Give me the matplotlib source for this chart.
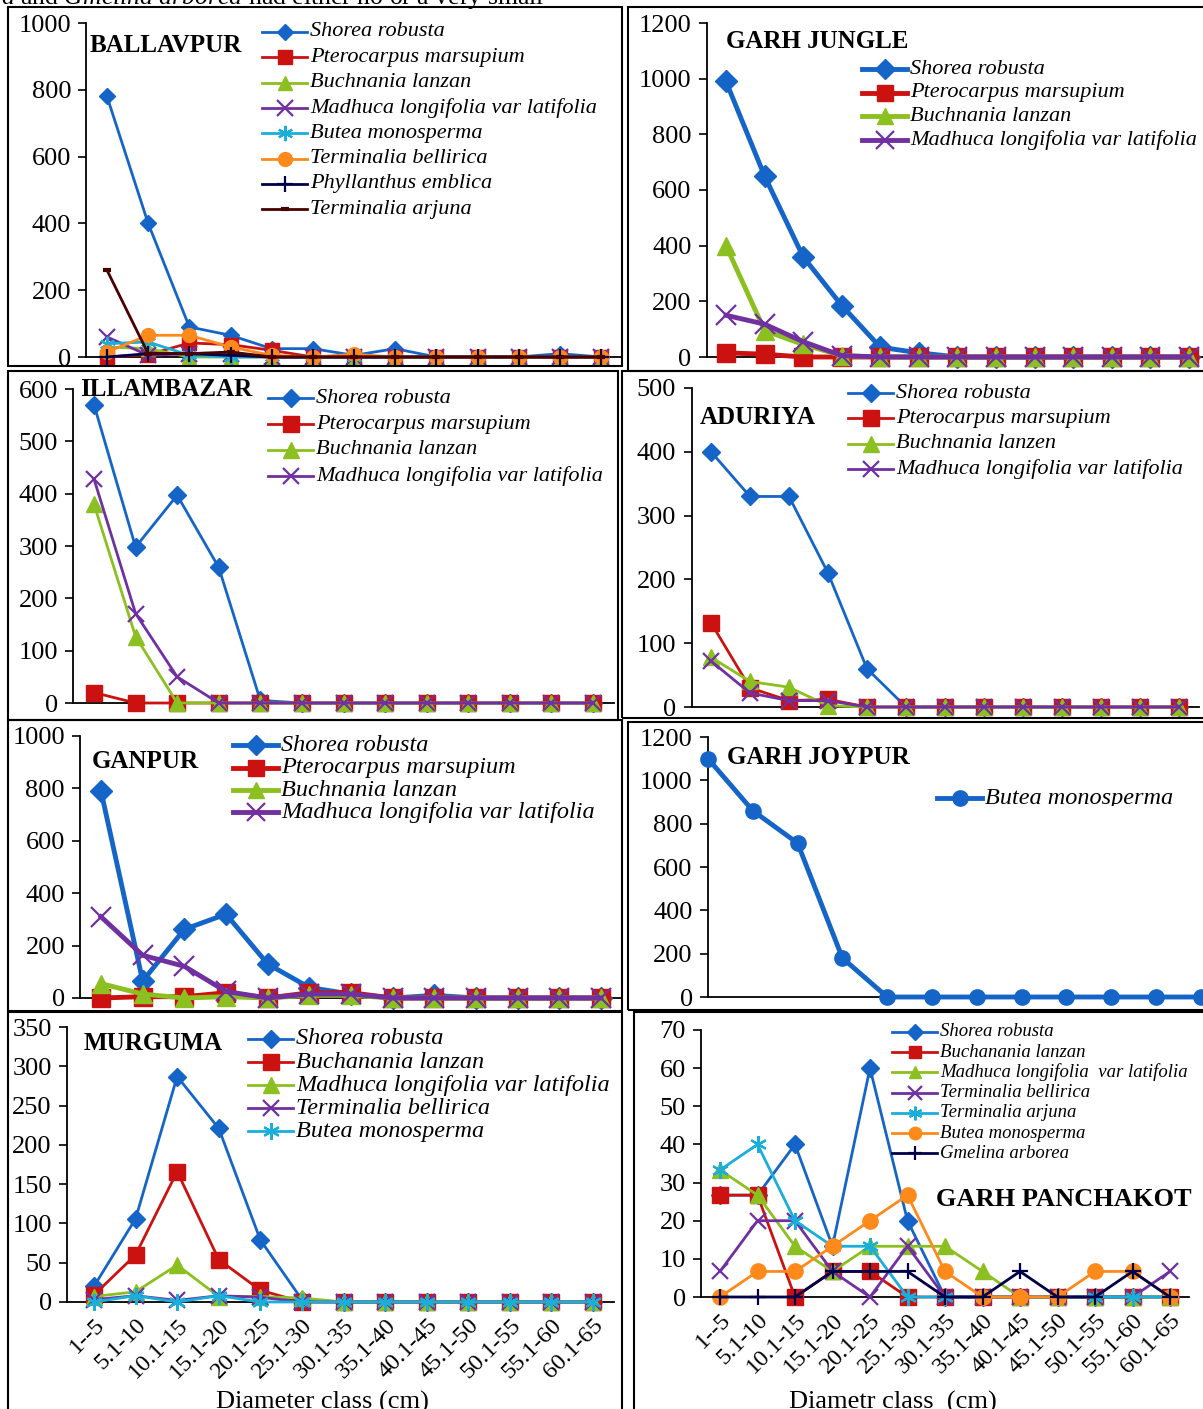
import numpy as np
import matplotlib
matplotlib.use("Agg")
import matplotlib.pyplot as plt
from matplotlib.lines import Line2D
from matplotlib.patches import Rectangle

W, H = 1203, 1409

# Diameter classes (cm)
CLASSES = ["1--5", "5.1-10", "10.1-15", "15.1-20", "20.1-25", "25.1-30", "30.1-35",
           "35.1-40", "40.1-45", "45.1-50", "50.1-55", "55.1-60", "60.1-65"]

# Number of individuals per diameter class
BALLAVPUR = {
    "Shorea robusta":            [780, 400, 90, 65, 25, 25, 5, 25, 0, 0, 0, 10, 0],
    "Pterocarpus marsupium":     [0, 7, 42, 37, 20, 0, 0, 0, 0, 0, 0, 0, 0],
    "Buchnania lanzan":          [30, 25, 0, 0, 0, 0, 0, 0, 0, 0, 0, 0, 0],
    "Madhuca longifolia var latifolia": [60, 5, 10, 10, 0, 0, 0, 0, 0, 0, 0, 0, 0],
    "Butea monosperma":          [40, 45, 5, 0, 0, 0, 0, 0, 0, 0, 0, 0, 0],
    "Terminalia bellirica":      [15, 65, 65, 30, 5, 0, 8, 0, 0, 0, 0, 0, 0],
    "Phyllanthus emblica":       [0, 10, 10, 5, 0, 0, 0, 0, 0, 0, 0, 0, 0],
    "Terminalia arjuna":         [260, 10, 10, 15, 0, 0, 0, 0, 0, 0, 0, 0, 0],
}
GARH_JUNGLE = {
    "Shorea robusta":            [990, 650, 360, 185, 35, 15, 0, 0, 0, 0, 0, 0, 0],
    "Pterocarpus marsupium":     [15, 10, 0, 0, 0, 0, 0, 0, 0, 0, 0, 0, 0],
    "Buchnania lanzan":          [400, 95, 45, 5, 0, 0, 0, 0, 0, 0, 0, 0, 0],
    "Madhuca longifolia var latifolia": [150, 118, 55, 5, 0, 0, 0, 0, 0, 0, 0, 0, 0],
}
ILLAMBAZAR = {
    "Shorea robusta":            [570, 298, 397, 259, 5, 0, 0, 0, 0, 0, 0, 0, 0],
    "Pterocarpus marsupium":     [20, 0, 0, 0, 0, 0, 0, 0, 0, 0, 0, 0, 0],
    "Buchnania lanzan":          [380, 127, 0, 0, 0, 0, 0, 0, 0, 0, 0, 0, 0],
    "Madhuca longifolia var latifolia": [428, 171, 50, 0, 0, 0, 0, 0, 0, 0, 0, 0, 0],
}
ADURIYA = {
    "Shorea robusta":            [400, 330, 330, 210, 60, 0, 0, 0, 0, 0, 0, 0, 0],
    "Pterocarpus marsupium":     [132, 30, 10, 12, 0, 0, 0, 0, 0, 0, 0, 0, 0],
    "Buchnania lanzen":          [78, 40, 31, 2, 0, 0, 0, 0, 0, 0, 0, 0, 0],
    "Madhuca longifolia var latifolia": [72, 22, 10, 10, 0, 0, 0, 0, 0, 0, 0, 0, 0],
}
GANPUR = {
    "Shorea robusta":            [790, 65, 262, 320, 130, 40, 15, 0, 10, 0, 0, 0, 0],
    "Pterocarpus marsupium":     [0, 5, 5, 20, 0, 20, 20, 0, 0, 0, 0, 0, 0],
    "Buchnania lanzan":          [55, 15, 0, 5, 0, 10, 10, 0, 0, 0, 0, 0, 0],
    "Madhuca longifolia var latifolia": [310, 163, 121, 25, 0, 15, 15, 0, 0, 0, 0, 0, 0],
}
GARH_JOYPUR = {
    "Butea monosperma":          [1100, 860, 710, 180, 0, 0, 0, 0, 0, 0, 0, 0],
}
MURGUMA = {
    "Shorea robusta":            [20, 106, 287, 221, 79, 3, 0, 0, 0, 0, 0, 0, 0],
    "Buchanania lanzan":         [9, 60, 166, 54, 15, 0, 0, 0, 0, 0, 0, 0, 0],
    "Madhuca longifolia var latifolia": [7, 13, 47, 7, 7, 5, 0, 0, 0, 0, 0, 0, 0],
    "Terminalia bellirica":      [3, 8, 2, 8, 6, 0, 0, 0, 0, 0, 0, 0, 0],
    "Butea monosperma":          [0, 8, 0, 8, 0, 0, 0, 0, 0, 0, 0, 0, 0],
}
GARH_PANCHAKOT = {
    "Shorea robusta":            [26.7, 26.7, 40, 13.3, 60, 20, 0, 0, 0, 0, 0, 0, 0],
    "Buchanania lanzan":         [26.7, 26.7, 0, 6.7, 6.7, 0, 0, 0, 0, 0, 0, 0, 0],
    "Madhuca longifolia  var latifolia": [33.3, 26.7, 13.3, 6.7, 13.3, 13.3, 13.3, 6.7, 0, 0, 0, 0, 0],
    "Terminalia bellirica":      [6.7, 20, 20, 6.7, 0, 13.3, 0, 0, 0, 0, 0, 0, 6.7],
    "Terminalia arjuna":         [33.3, 40, 20, 13.3, 13.3, 0, 0, 0, 0, 0, 0, 0, 0],
    "Butea monosperma":          [0, 6.7, 6.7, 13.3, 20, 26.7, 6.7, 0, 0, 0, 6.7, 6.7, 0],
    "Gmelina arborea":           [0, 0, 0, 6.7, 6.7, 6.7, 0, 0, 6.7, 0, 0, 6.7, 0],
}

# Excel-like series styles, in series order
ASTER = (6, 2, 0)
STYLES = [
    ("#1565C8", "D"),
    ("#CC1111", "s"),
    ("#8CC020", "^"),
    ("#7030A0", "x"),
    ("#1AAEDA", ASTER),
    ("#FF8A1C", "o"),
    ("#00004A", "+"),
    ("#4A0000", "_"),
]

plt.rcParams["font.family"] = ["Liberation Serif", "DejaVu Serif"]
plt.rcParams["mathtext.fontset"] = "custom"
plt.rcParams["mathtext.rm"] = "Liberation Serif"
plt.rcParams["mathtext.it"] = "Liberation Serif:italic"

fig = plt.figure(figsize=(W / 100, H / 100), dpi=100)


def fx(x):
    return x / W


def fy(y):
    return 1 - y / H


def box(x0, y0, x1, y1):
    fig.add_artist(Rectangle((fx(x0), fy(y1)), (x1 - x0) / W, (y1 - y0) / H,
                             transform=fig.transFigure, fill=False, lw=1.5, ec="black"))


def marker_kw(marker, color, ms):
    kw = dict(marker=marker, markersize=ms, markerfacecolor=color, markeredgecolor=color)
    if marker in ("x", "+", ASTER):
        kw["markeredgewidth"] = 1.6
        kw["markersize"] = ms * 1.1
    if marker == "_":
        kw["markeredgewidth"] = 3
        kw["markersize"] = ms * 0.6
    if marker == "D":
        kw["markersize"] = ms * 0.85
    return kw


def panel(series, x_first, step, y_zero, y_top, ymax, ystep, lw, ms,
          xlo=-0.5, xhi=12.5, styles=None, xlabel=None, xlabel_x=None):
    left = x_first + xlo * step
    right = x_first + xhi * step
    ax = fig.add_axes([fx(left), fy(y_zero), (right - left) / W, (y_zero - y_top) / H])
    ax.set_xlim(xlo, xhi)
    ax.set_ylim(0, ymax)
    styles = styles or STYLES
    for i, (name, vals) in enumerate(series.items()):
        color, marker = styles[i]
        x = np.arange(len(vals))
        ax.plot(x, vals, color=color, lw=lw, clip_on=False, zorder=3 + i,
                **marker_kw(marker, color, ms))
    ax.set_yticks(np.arange(0, ymax + 1, ystep))
    ax.tick_params(axis="y", direction="out", length=6, width=1.2, labelsize=19, pad=5)
    for s in ("top", "right"):
        ax.spines[s].set_visible(False)
    for s in ("left", "bottom"):
        ax.spines[s].set_linewidth(1.3)
    ax.patch.set_alpha(0)
    if xlabel:
        ax.set_xticks(np.arange(len(CLASSES)))
        ax.set_xticklabels(CLASSES, rotation=45, ha="right", va="top",
                           rotation_mode="anchor", fontsize=17.5)
        ax.tick_params(axis="x", length=0, pad=9)
        fig.text(fx(xlabel_x), fy(1402), xlabel, fontsize=19, ha="center", va="center")
    else:
        ax.set_xticks([])
    return ax


def legend(series, x, y, dy, fs, lw, ms, styles=None, hl=45, clip=None):
    styles = styles or STYLES
    for i, name in enumerate(series):
        color, marker = styles[i]
        yy = y + i * dy
        fig.add_artist(Line2D([fx(x), fx(x + hl)], [fy(yy)] * 2, color=color, lw=lw,
                              transform=fig.transFigure))
        fig.add_artist(Line2D([fx(x + hl / 2)], [fy(yy)], color=color, lw=0,
                              transform=fig.transFigure, **marker_kw(marker, color, ms)))
        t = fig.text(fx(x + hl + 3), fy(yy), name, fontsize=fs, style="italic",
                     ha="left", va="center")
        if clip is not None:
            r = Rectangle((0, fy(clip)), 1, 1, transform=fig.transFigure)
            t.set_clip_path(r)


def title(text, x, y, fs=18):
    fig.text(fx(x), fy(y), text, fontsize=fs, fontweight="bold", ha="left", va="center")


# panel frames
box(8, 7, 622, 366)
box(628, 7, 1210, 371)
box(8, 371, 618, 720)
box(622, 371, 1210, 718)
box(8, 720, 622, 1011)
box(628, 722, 1210, 1010)
box(8, 1012, 622, 1420)
box(634, 1012, 1210, 1420)

# clipped running text from the page above the figure
fig.text(fx(1), fy(4), r"$\it{a}$ and $\it{Gmelina\ arborea}$ had either no or a very small",
         fontsize=18.5, ha="left", va="baseline")

panel(BALLAVPUR, 107, (601 - 107) / 12, 357, 23, 1000, 200, 2.0, 10)
title("BALLAVPUR", 90, 45)
legend(BALLAVPUR, 262, 32, 25.3, 16, 2.0, 10)

panel(GARH_JUNGLE, 726, (1189 - 726) / 12, 357, 23, 1200, 200, 3.5, 13)
title("GARH JUNGLE", 726, 41)
legend(GARH_JUNGLE, 862, 69, 23.7, 16, 3.5, 12)

panel(ILLAMBAZAR, 94, (593 - 94) / 12, 703, 389, 600, 100, 2.0, 11)
title("ILLAMBAZAR", 80, 390)
legend(ILLAMBAZAR, 268, 398, 26, 16, 2.0, 11)

panel(ADURIYA, 711, (1179 - 711) / 12, 707, 388, 500, 100, 2.0, 11)
title("ADURIYA", 700, 417)
legend(ADURIYA, 848, 393, 25.3, 16, 2.0, 11)

panel(GANPUR, 101, (601 - 101) / 12, 998, 736, 1000, 200, 3.5, 13)
title("GANPUR", 92, 761)
legend(GANPUR, 233, 745, 22.5, 17.5, 3.5, 12)

joy_style = [("#1565C8", "o")]
panel(GARH_JOYPUR, 708, 44.8, 997, 737, 1200, 200, 3.5, 11, xlo=0, xhi=12, styles=joy_style)
title("GARH JOYPUR", 727, 757)
legend(GARH_JOYPUR, 937, 798, 0, 17.5, 3.5, 11, styles=joy_style, clip=806)

panel(MURGUMA, 94, (593 - 94) / 12, 1302, 1027, 350, 50, 2.0, 11, xlo=-0.65,
      xlabel="Diameter class (cm)", xlabel_x=322)
title("MURGUMA", 84, 1044)
legend(MURGUMA, 248, 1039, 23, 17.5, 2.0, 11)

panel(GARH_PANCHAKOT, 720, (1170 - 720) / 12, 1297, 1030, 70, 10, 2.0, 11,
      xlabel="Diametr class  (cm)", xlabel_x=893)
title("GARH PANCHAKOT", 936, 1199, fs=19)
legend(GARH_PANCHAKOT, 892, 1032, 20.2, 13.5, 2.0, 9)

fig.savefig("out.png", dpi=100)
